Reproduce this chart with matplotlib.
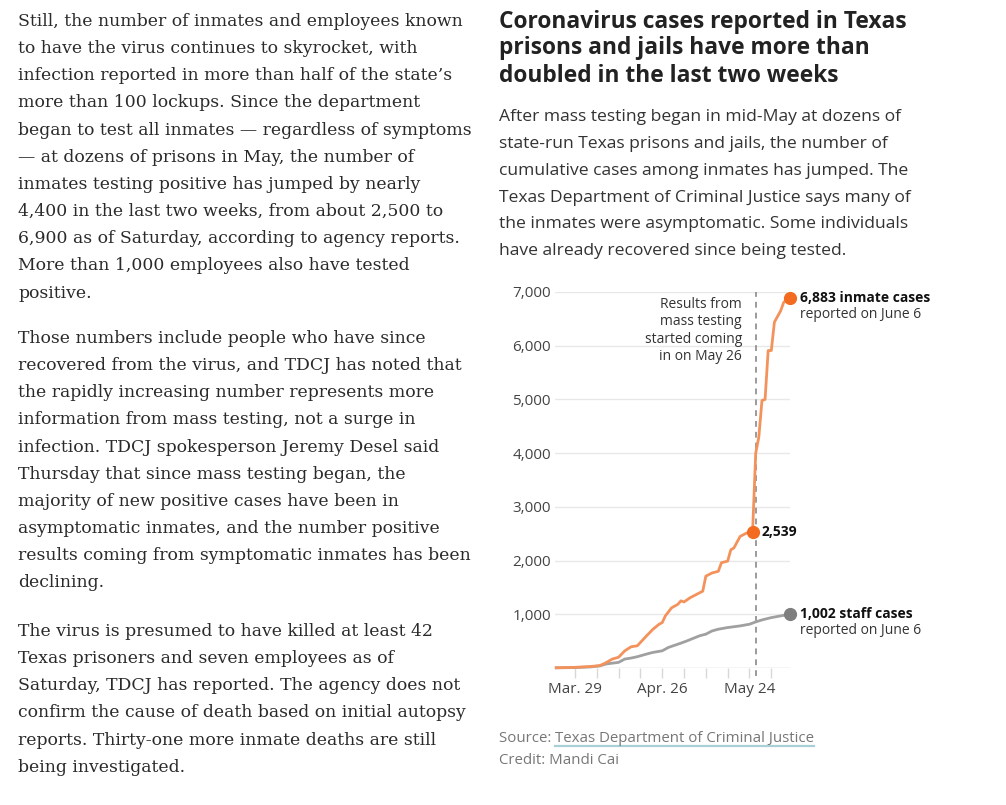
import numpy as np
import pandas as pd
import matplotlib
matplotlib.use('Agg')
import matplotlib.pyplot as plt
import matplotlib.dates as mdates
from matplotlib.lines import Line2D

W, H = 1006, 805

# data
inmate_dates = ['2020-03-23', '2020-03-29', '2020-04-03', '2020-04-06', '2020-04-08', '2020-04-10',
                '2020-04-12', '2020-04-14', '2020-04-16', '2020-04-18', '2020-04-21', '2020-04-23',
                '2020-04-25', '2020-04-26', '2020-04-27', '2020-04-29', '2020-05-01', '2020-05-02',
                '2020-05-03', '2020-05-05', '2020-05-07', '2020-05-08', '2020-05-09', '2020-05-10',
                '2020-05-12', '2020-05-14', '2020-05-15', '2020-05-17', '2020-05-18', '2020-05-19',
                '2020-05-21', '2020-05-23', '2020-05-25', '2020-05-26', '2020-05-27', '2020-05-28',
                '2020-05-29', '2020-05-30', '2020-05-31', '2020-06-01', '2020-06-03', '2020-06-04',
                '2020-06-06']
inmate_cases = [5, 12, 28, 45, 100, 167, 200, 320, 395, 413, 600, 720, 815, 845, 970, 1120, 1185,
                1250, 1230, 1310, 1370, 1400, 1430, 1710, 1770, 1800, 1960, 1990, 2200, 2235, 2450,
                2510, 2539, 4000, 4300, 4980, 5000, 5910, 5910, 6440, 6650, 6810, 6883]

staff_dates = ['2020-03-23', '2020-03-29', '2020-04-03', '2020-04-06', '2020-04-08', '2020-04-12',
               '2020-04-14', '2020-04-16', '2020-04-18', '2020-04-21', '2020-04-23', '2020-04-26',
               '2020-04-28', '2020-05-02', '2020-05-04', '2020-05-08', '2020-05-10', '2020-05-12',
               '2020-05-14', '2020-05-17', '2020-05-21', '2020-05-24', '2020-05-26', '2020-05-28',
               '2020-05-31', '2020-06-03', '2020-06-06']
staff_cases = [3, 8, 20, 40, 75, 105, 167, 185, 210, 260, 290, 320, 383, 463, 506, 600, 630, 690,
               722, 753, 784, 815, 858, 895, 938, 970, 1002]

mass_testing_date = '2020-05-26'
label_dates = ['2020-03-29', '2020-04-26', '2020-05-24']
label_texts = ['Mar. 29', 'Apr. 26', 'May 24']

para1 = ["Still, the number of inmates and employees known",
         "to have the virus continues to skyrocket, with",
         "infection reported in more than half of the state\u2019s",
         "more than 100 lockups. Since the department",
         "began to test all inmates \u2014 regardless of symptoms",
         "\u2014 at dozens of prisons in May, the number of",
         "inmates testing positive has jumped by nearly",
         "4,400 in the last two weeks, from about 2,500 to",
         "6,900 as of Saturday, according to agency reports.",
         "More than 1,000 employees also have tested",
         "positive."]
para2 = ["Those numbers include people who have since",
         "recovered from the virus, and TDCJ has noted that",
         "the rapidly increasing number represents more",
         "information from mass testing, not a surge in",
         "infection. TDCJ spokesperson Jeremy Desel said",
         "Thursday that since mass testing began, the",
         "majority of new positive cases have been in",
         "asymptomatic inmates, and the number positive",
         "results coming from symptomatic inmates has been",
         "declining."]
para3 = ["The virus is presumed to have killed at least 42",
         "Texas prisoners and seven employees as of",
         "Saturday, TDCJ has reported. The agency does not",
         "confirm the cause of death based on initial autopsy",
         "reports. Thirty-one more inmate deaths are still",
         "being investigated."]

title_lines = ["Coronavirus cases reported in Texas",
               "prisons and jails have more than",
               "doubled in the last two weeks"]
sub_lines = ["After mass testing began in mid-May at dozens of",
             "state-run Texas prisons and jails, the number of",
             "cumulative cases among inmates has jumped. The",
             "Texas Department of Criminal Justice says many of",
             "the inmates were asymptomatic. Some individuals",
             "have already recovered since being tested."]
note_lines = ["Results from", "mass testing", "started coming", "in on May 26"]

ORANGE = '#f4925c'
ORANGE_DOT = '#f26b21'
GREY = '#a0a0a0'
GREY_DOT = '#7f7f7f'
SANS = ['Open Sans', 'DejaVu Sans']
SERIF = ['DejaVu Serif']

plt.rcParams['font.family'] = SANS

fig = plt.figure(figsize=(W / 100, H / 100), dpi=100)
fig.patch.set_facecolor('white')


def fy(py):
    return 1 - py / H


# article text on the left
def para(lines, y0, step=27.15):
    for i, line in enumerate(lines):
        fig.text(18 / W, fy(y0 + i * step), line, family=SERIF, fontsize=12.45,
                 color='#2a2a2a', va='center', ha='left')


para(para1, 21.5)
para(para2, 338.5)
para(para3, 631.5)

# headline and intro
for i, line in enumerate(title_lines):
    fig.text(499 / W, fy(21.5 + i * 27), line, fontsize=16.4, fontweight='bold',
             color='#222222', va='center')
for i, line in enumerate(sub_lines):
    fig.text(499 / W, fy(117 + i * 26.85), line, fontsize=12.6, color='#333333', va='center')

# chart
ax = fig.add_axes([555 / W, fy(668), 235 / W, 376 / H])
x0 = mdates.datestr2num('2020-03-22') + 0.6
x1 = mdates.datestr2num('2020-06-06')
ax.set_xlim(x0, x1)
ax.set_ylim(0, 7000)

xi = mdates.datestr2num(inmate_dates)
xs = mdates.datestr2num(staff_dates)
ax.plot(xs, staff_cases, color=GREY, lw=2, solid_joinstyle='round', zorder=3, clip_on=False)
ax.plot(xi, inmate_cases, color=ORANGE, lw=2, solid_joinstyle='round', zorder=4, clip_on=False)

xm = mdates.datestr2num(mass_testing_date)
ax.plot([xm, xm], [-150, 7000], color='#8a8a8a', lw=1.2, ls=(0, (3.5, 3)), zorder=2, clip_on=False)

ax.plot(xi[-1], inmate_cases[-1], 'o', ms=8.5, color=ORANGE_DOT, zorder=6, clip_on=False)
i_mid = inmate_dates.index('2020-05-25')
ax.plot(xi[i_mid], inmate_cases[i_mid], 'o', ms=8.5, color=ORANGE_DOT, zorder=6, clip_on=False)
ax.plot(xs[-1], staff_cases[-1], 'o', ms=8.5, color=GREY_DOT, zorder=6, clip_on=False)

for s in ax.spines.values():
    s.set_visible(False)
ax.axhline(0, color='#d0d0d0', lw=1, zorder=1)
ax.set_yticks(np.arange(1000, 8000, 1000))
ax.set_yticklabels(['{:,}'.format(v) for v in range(1000, 8000, 1000)])
ax.yaxis.grid(True, color='#e8e8e8', lw=1)
ax.set_axisbelow(True)
ax.tick_params(axis='y', length=0, pad=3, labelsize=11, labelcolor='#444444')

ax.xaxis.set_major_locator(mdates.WeekdayLocator(byweekday=mdates.SU, interval=1))
ticks = ax.get_xticks()
ax.set_xticks(ticks)
lab_nums = set(np.round(mdates.datestr2num(label_dates)).astype(int))
ax.set_xticklabels([label_texts[sorted(lab_nums).index(int(round(t)))] if int(round(t)) in lab_nums else ''
                    for t in ticks])
ax.tick_params(axis='x', length=7, width=1, color='#d8d8d8', direction='out', pad=3,
               labelsize=11, labelcolor='#444444')

# annotations
for i, line in enumerate(note_lines):
    fig.text(742 / W, fy(304 + i * 17.6), line, fontsize=10, color='#333333', ha='right', va='center')

fig.text(800 / W, fy(297.5), '6,883 inmate cases', fontsize=10, fontweight='bold', color='#111111', va='center')
fig.text(800 / W, fy(314), 'reported on June 6', fontsize=10, color='#333333', va='center')
fig.text(762 / W, fy(531.5), '2,539', fontsize=10, fontweight='bold', color='#111111', va='center')
fig.text(800 / W, fy(614), '1,002 staff cases', fontsize=10, fontweight='bold', color='#111111', va='center')
fig.text(800 / W, fy(631), 'reported on June 6', fontsize=10, color='#333333', va='center')

# source / credit
t1 = fig.text(499 / W, fy(738), 'Source: ', fontsize=10.8, color='#777777', va='center')
r = fig.canvas.get_renderer()
bb = t1.get_window_extent(r)
t2 = fig.text(bb.x1 / W, fy(738), 'Texas Department of Criminal Justice', fontsize=10.8,
              color='#777777', va='center')
bb2 = t2.get_window_extent(r)
fig.add_artist(Line2D([bb2.x0 / W, bb2.x1 / W], [fy(745.5), fy(745.5)], color='#a9d0d6', lw=1.6))
fig.text(499 / W, fy(760), 'Credit: Mandi Cai', fontsize=10.8, color='#777777', va='center')

fig.savefig('out.png', dpi=100, facecolor='white')
